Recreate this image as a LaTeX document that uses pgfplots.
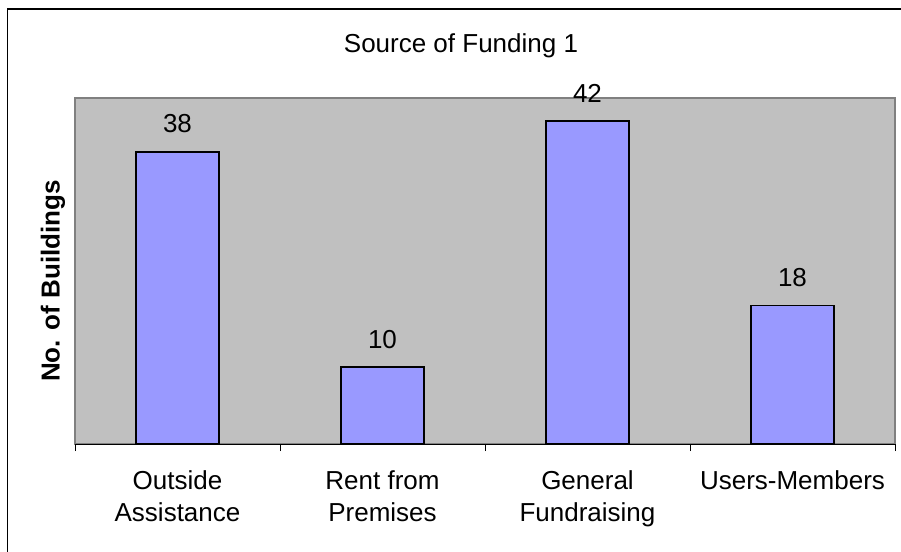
\documentclass[border=0pt]{standalone}
\usepackage{pgfplots}
\pgfplotsset{compat=1.18}
\usepackage{fontspec}
\setmainfont{Liberation Sans}
\definecolor{plotbg}{HTML}{C0C0C0}
\definecolor{barfill}{HTML}{9999FF}
\definecolor{frame}{HTML}{808080}
\begin{document}
\begin{tikzpicture}[x=0.75pt,y=0.75pt]
\path[use as bounding box] (0,0) rectangle (901,551);
\begin{scope}
\clip (0,0) rectangle (901,551);
\draw[black, line width=1.1pt] (7.5,-20) -- (7.5,542) -- (930,542);
\end{scope}
\node[anchor=base, font=\fontsize{19.5}{22}\selectfont] at (461,498.5) {Source of Funding 1};
\node[rotate=90, font=\fontsize{19.5}{22}\selectfont\bfseries] at (53,270) {No. of Buildings};
\begin{axis}[
  at={(56.25pt,80.25pt)}, anchor=south west,
  scale only axis, width=615pt, height=259.5pt,
  xmin=-0.5, xmax=3.5, ymin=0, ymax=45,
  axis background/.style={fill=plotbg},
  axis line style={draw=frame, line width=1.4pt},
  ytick=\empty,
  xtick pos=bottom,
  xtick={0,1,2,3},
  xticklabels={{Outside\\Assistance},{Rent from\\Premises},{General\\Fundraising},{Users-Members}},
  major tick length=0pt,
  xticklabel style={align=center, font=\fontsize{19.5}{24}\selectfont, anchor=north, yshift=-16.5pt},
  extra x ticks={-0.5,0.5,1.5,2.5,3.5},
  extra x tick labels={},
  extra x tick style={xtick pos=bottom, major tick length=5.25pt, tick align=outside, tick style={black, line width=0.75pt}},
  /pgf/number format/assume math mode=true,
  nodes near coords,
  nodes near coords style={font=\fontsize{19.5}{22}\selectfont, anchor=base, yshift=14.25pt},
  every node near coord/.append style={anchor=base},
  clip=false,
]
\addplot[ybar, bar width=62.25pt, fill=barfill, draw=black, line width=1.1pt] coordinates {(0,38) (1,10) (2,42) (3,18)};
\draw[black, line width=0.75pt] (axis cs:-0.5,0) -- (axis cs:3.5,0);
\end{axis}
\end{tikzpicture}
\end{document}
